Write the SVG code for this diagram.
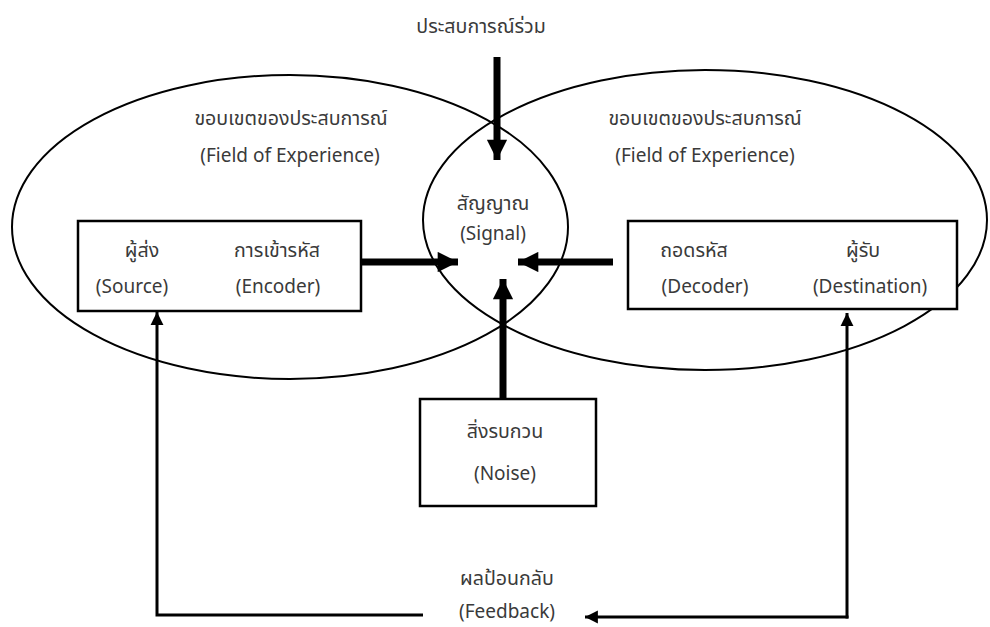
<svg xmlns="http://www.w3.org/2000/svg" width="990" height="627" viewBox="0 0 990 627">
<style>
text{font-family:"Noto Sans Thai","Noto Sans","DejaVu Sans",sans-serif;font-size:19px;fill:#3a3a3a;text-anchor:middle}
text.th{font-size:19.6px}
.ell{fill:none;stroke:#000;stroke-width:2}
.box{fill:#fff;stroke:#000;stroke-width:2.5}
.thick{stroke:#000;stroke-width:7;fill:none}
.thin{stroke:#000;stroke-width:3;fill:none}
</style>
<defs>
<marker id="big" viewBox="0 0 10 10" refX="10" refY="5" markerWidth="3.2" markerHeight="2.9" markerUnits="strokeWidth" orient="auto"><path d="M0,0 L10,5 L0,10 z" fill="#000"/></marker>
<marker id="small" viewBox="0 0 10 10" refX="10" refY="5" markerWidth="4.3" markerHeight="4.6" markerUnits="strokeWidth" orient="auto"><path d="M0,0 L10,5 L0,10 z" fill="#000"/></marker>
</defs>
<rect width="990" height="627" fill="#fff"/>
<g id="field-left">
<ellipse class="ell" cx="290" cy="227" rx="278" ry="152"/>
<text class="th" x="291" y="125">ขอบเขตของประสบการณ์</text>
<text x="290" y="162">(Field of Experience)</text>
</g>
<g id="field-right">
<ellipse class="ell" cx="705" cy="220" rx="282" ry="150"/>
<text class="th" x="705" y="125">ขอบเขตของประสบการณ์</text>
<text x="705" y="162">(Field of Experience)</text>
</g>
<g id="signal">
<text class="th" x="493" y="210">สัญญาณ</text>
<text x="493" y="240">(Signal)</text>
</g>
<g id="shared">
<text class="th" x="481" y="33">ประสบการณ์ร่วม</text>
</g>
<g id="sender">
<rect class="box" x="78" y="221" width="283" height="90"/>
<text class="th" x="142" y="257">ผู้ส่ง</text>
<text x="132" y="293">(Source)</text>
<text class="th" x="277" y="257">การเข้ารหัส</text>
<text x="278" y="293">(Encoder)</text>
</g>
<g id="receiver">
<rect class="box" x="628" y="221" width="329" height="88"/>
<text class="th" x="694" y="257">ถอดรหัส</text>
<text x="705" y="293">(Decoder)</text>
<text class="th" x="863" y="257">ผู้รับ</text>
<text x="870" y="293">(Destination)</text>
</g>
<g id="noise">
<rect class="box" x="420" y="399" width="176" height="107"/>
<text class="th" x="505" y="438">สิ่งรบกวน</text>
<text x="505" y="480">(Noise)</text>
</g>
<g id="feedback">
<text class="th" x="507" y="585">ผลป้อนกลับ</text>
<text x="507" y="618">(Feedback)</text>
</g>
<g id="connectors">
<line class="thick" x1="497" y1="57" x2="497" y2="160" marker-end="url(#big)"/>
<line class="thick" x1="361" y1="262" x2="458" y2="262" marker-end="url(#big)"/>
<line class="thick" x1="613" y1="262" x2="518" y2="262" marker-end="url(#big)"/>
<line class="thick" x1="503" y1="399" x2="503" y2="279" marker-end="url(#big)"/>
<polyline class="thin" points="423,615 157,615 157,312" marker-end="url(#small)"/>
<line class="thin" x1="848.5" y1="617" x2="585" y2="617" marker-end="url(#small)"/>
<line class="thin" x1="847" y1="618.5" x2="847" y2="313" marker-end="url(#small)"/>
</g>
</svg>
